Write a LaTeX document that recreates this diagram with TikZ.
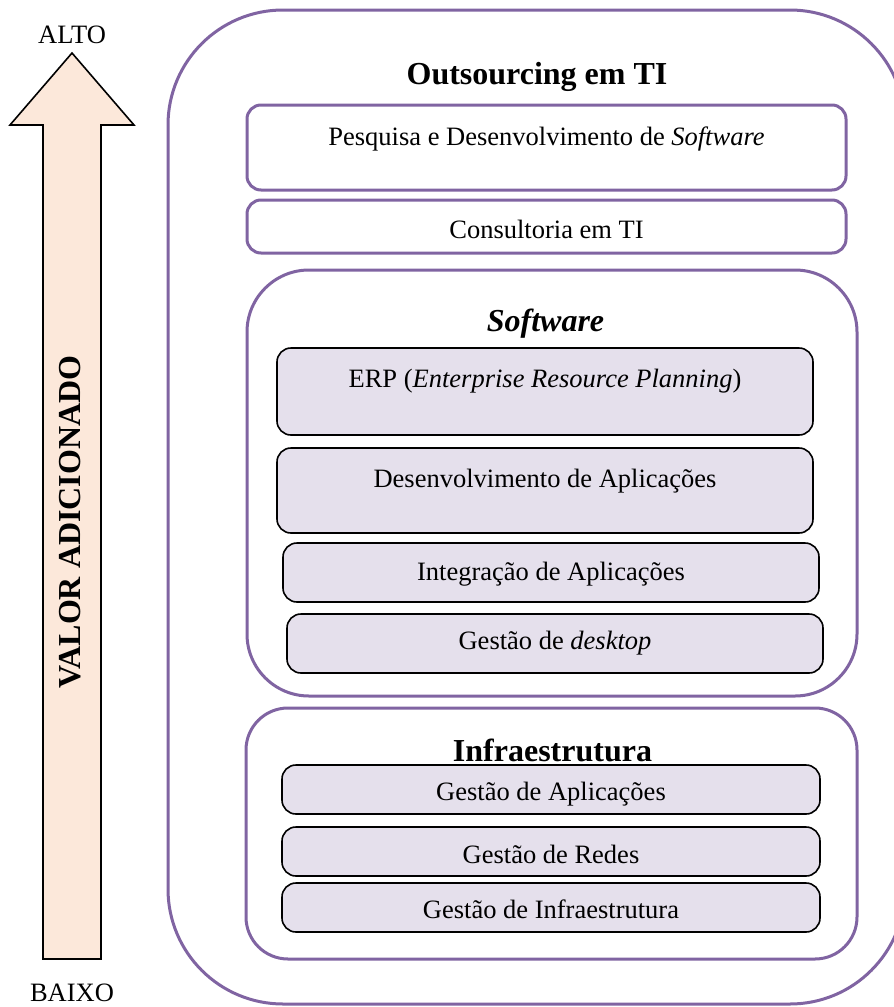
\documentclass[tikz,border=0pt]{standalone}
\usepackage{fontspec}
\setmainfont{Liberation Serif}
\usetikzlibrary{positioning}
\definecolor{roxo}{RGB}{128,100,162}
\definecolor{lilas}{RGB}{229,224,236}
\definecolor{pessego}{RGB}{252,232,218}

\begin{document}
\begin{tikzpicture}[x=1pt, y=-1pt, >=stealth]
			\tikzstyle{fora} = [draw=roxo, line width=3pt, rounded corners=115pt, inner sep=0pt]
			\tikzstyle{grupo} = [draw=roxo, line width=3pt, inner sep=0pt]
			\tikzstyle{branca} = [draw=roxo, line width=3pt, fill=white, rounded corners=14pt, inner sep=0pt]
			\tikzstyle{caixa} = [draw=black, line width=1.6pt, fill=lilas, rounded corners=14pt, inner sep=0pt]
			\tikzstyle{texto} = [anchor=base, inner sep=0pt, font=\fontsize{26.5}{30}\selectfont]
			\tikzstyle{titulo} = [anchor=base, inner sep=0pt, font=\fontsize{32}{36}\selectfont\bfseries]
			\useasboundingbox (0,0) rectangle (894,1007);

			% seta do valor adicionado
			\draw[fill=pessego, line width=1.6pt, line join=miter]
			(72,53) -- (134,125) -- (101,125) -- (101,959) -- (43,959)
			-- (43,125) -- (10,125) -- cycle;
			\node[texto] (alto) at (72,43) {ALTO};
			\node[texto] (baixo) at (72,1001) {BAIXO};
			\node[titulo, rotate=90] (valor) at (80,522) {VALOR ADICIONADO};

			% caixa externa
			\node[fora, minimum width=737pt, minimum height=994pt] (ti) at (536.5,507) {};
			\node[titulo] (tti) at (537,84) {Outsourcing em TI};

			\node[branca, minimum width=599pt, minimum height=85pt] (pesq) at (546.5,147.5) {};
			\node[texto] (tpesq) at (546.5,145) {Pesquisa e Desenvolvimento de \textit{Software}};
			\node[branca, minimum width=599pt, minimum height=53pt] (cons) at (546.5,226.5) {};
			\node[texto] (tcons) at (546.5,238) {Consultoria em TI};

			% software
			\node[grupo, rounded corners=62pt, minimum width=610pt, minimum height=426pt] (soft) at (552,483) {};
			\node[titulo] (tsoft) at (545.5,331) {\itshape Software};
			\node[caixa, minimum width=536pt, minimum height=87pt] (erp) at (545,391.5) {};
			\node[texto] (terp) at (545,387) {ERP (\textit{Enterprise Resource Planning})};
			\node[caixa, minimum width=536pt, minimum height=85pt] (desenv) at (545,490.5) {};
			\node[texto] (tdesenv) at (545,487) {Desenvolvimento de Aplicações};
			\node[caixa, minimum width=536pt, minimum height=59pt] (integ) at (551,572.5) {};
			\node[texto] (tinteg) at (551,580) {Integração de Aplicações};
			\node[caixa, minimum width=536pt, minimum height=59pt] (desk) at (555,643.5) {};
			\node[texto] (tdesk) at (555,649) {Gestão de \textit{desktop}};

			% infraestrutura
			\node[grupo, rounded corners=42pt, minimum width=611pt, minimum height=251pt] (infra) at (551.5,833.5) {};
			\node[titulo] (tinfra) at (552.5,761) {Infraestrutura};
			\node[caixa, minimum width=538pt, minimum height=49pt] (gapl) at (551,789.5) {};
			\node[texto] (tgapl) at (551,800) {Gestão de Aplicações};
			\node[caixa, minimum width=538pt, minimum height=49pt] (redes) at (551,851.5) {};
			\node[texto] (tredes) at (551,863) {Gestão de Redes};
			\node[caixa, minimum width=538pt, minimum height=49pt] (ginfra) at (551,907.5) {};
			\node[texto] (tginfra) at (551,918) {Gestão de Infraestrutura};

\end{tikzpicture}
\end{document}
